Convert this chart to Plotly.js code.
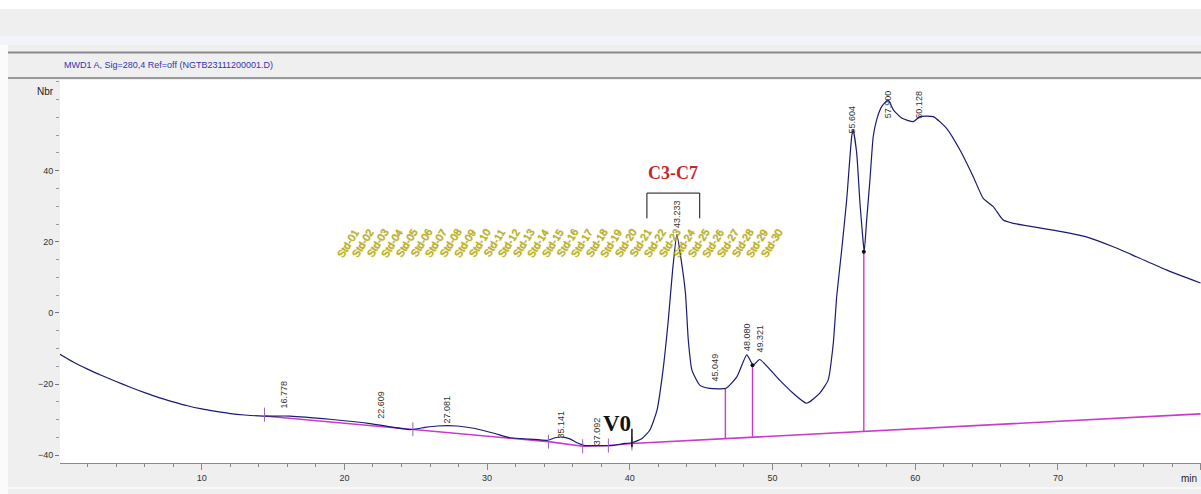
<!DOCTYPE html>
<html><head><meta charset="utf-8">
<script src="https://cdn.plot.ly/plotly-3.0.1.min.js"></script>
<style>html,body{margin:0;padding:0;background:#efefef;overflow:hidden}#chart{width:1201px;height:494px}</style>
</head><body><div id="chart"></div><script>
// ---- data ----
const traceX = [0.07,1.0,2.0,3.0,4.0,5.0,6.0,7.0,8.0,9.0,10.0,11.0,12.0,13.0,14.32,16.2,19.0,21.8,24.6,25.65,26.5,27.9,29.15,30.55,31.6,33.0,34.27,34.76,35.25,35.8,36.3,36.86,37.9,38.75,39.66,40.15,40.86,41.4,41.9,42.3,42.7,43.0,43.3,43.6,43.9,44.1,44.35,44.9,45.6,46.74,47.5,48.2,48.65,49.1,50.5,51.45,52.4,53.3,53.9,54.26,54.5,54.85,55.2,55.55,55.65,55.9,56.13,56.36,56.43,56.6,56.83,57.06,57.3,57.65,58.1,58.47,59.05,59.87,60.34,61.27,62.2,63.14,64.07,64.77,65.47,66.17,66.87,69.68,72.0,73.88,75.5,77.6,80.0];
const traceY = [-11.6,-13.8,-15.8,-17.6,-19.3,-20.9,-22.4,-23.8,-25.0,-26.1,-27.0,-27.7,-28.3,-28.7,-29.0,-29.0,-29.9,-31.1,-32.8,-32.2,-31.8,-31.8,-32.5,-33.9,-35.1,-35.5,-35.8,-35.1,-34.9,-35.4,-36.5,-37.3,-37.3,-37.3,-36.7,-36.5,-35.3,-33.0,-27.5,-17.0,-2.0,12.0,22.0,14.9,5.6,-7.6,-16.0,-20.3,-21.2,-21.2,-18.0,-11.8,-14.7,-13.1,-18.9,-22.6,-25.4,-22.6,-18.9,-8.6,4.6,17.7,31.8,49.6,51.5,45.0,30.9,19.7,17.2,26.1,37.4,49.6,54.3,58.0,59.9,57.1,54.8,53.8,55.2,55.2,51.9,45.8,38.3,32.2,29.9,26.1,25.2,23.3,21.4,18.6,15.8,12.1,8.4];
const baseX = [14.4,24.8,34.3,36.7,38.5,40.15,80.0];
const baseY = [-29.0,-32.7,-36.2,-37.5,-37.3,-36.7,-28.4];
const intTickX = [14.4,24.8,34.3,36.7,38.5,40.15];
const intTickY = [-28.6,-32.7,-36.2,-37.5,-37.3,-36.7];
const dropX = [46.7,48.6,56.4];
const dropTop = [-21.2,-14.7,17.2];
const dropBottom = [-35.3,-34.9,-33.3];
const dotX = [48.6,56.4];
const dotY = [-14.7,17.2];
const peakLabels = ['16.778','22.609','27.081','35.141','37.092','43.233','45.049','48.080','49.321','55.604','57.900','60.128'];
const peakLabelX = [15.8,22.6,27.2,35.2,37.7,43.3,46.0,48.2,49.1,55.6,58.1,60.3];
const peakLabelY = [-27.3,-30.2,-31.6,-35.8,-37.8,23.3,-19.7,-11.3,-11.8,50.0,54.2,54.2];
const stdLabels = ['Std-01','Std-02','Std-03','Std-04','Std-05','Std-06','Std-07','Std-08','Std-09','Std-10','Std-11','Std-12','Std-13','Std-14','Std-15','Std-16','Std-17','Std-18','Std-19','Std-20','Std-21','Std-22','Std-23','Std-24','Std-25','Std-26','Std-27','Std-28','Std-29','Std-30'];
const stdX = [20.25,21.27,22.30,23.32,24.34,25.37,26.39,27.41,28.44,29.46,30.48,31.51,32.53,33.55,34.58,35.60,36.62,37.65,38.67,39.69,40.72,41.74,42.76,43.79,44.81,45.83,46.86,47.88,48.90,49.93];
const stdY = 19.7;
const bracketX = [41.2,41.2,44.9,44.9];
const bracketY = [26.6,33.7,33.7,26.6];
const v0X = [40.15,40.15];
const v0Y = [-32.6,-37.8];
const yTickVals = [-40,-20,0,20,40];
const headerText = 'MWD1 A, Sig=280,4 Ref=off (NGTB23111200001.D)';
const yUnit = 'Nbr';
const xUnit = 'min';
const groupLabel = 'C3-C7';

// ---- layout helpers (pixel -> paper) ----
const PX = p => (p-60)/1141;
const PY = p => (463-p)/383;

const NAVY = '#1a1a70', MAG = '#c83cc8';
const dropXs = [], dropYs = [];
dropX.forEach((x,i)=>{dropXs.push(x,x,null);dropYs.push(dropBottom[i],dropTop[i],null);});

const traces = [
  {x: baseX, y: baseY, mode:'lines', line:{color:MAG, width:1.6}, hoverinfo:'skip'},
  {x: dropXs, y: dropYs, mode:'lines', line:{color:MAG, width:1.4}, hoverinfo:'skip'},
  {x: traceX, y: traceY, mode:'lines', line:{color:NAVY, width:1.2, shape:'spline', smoothing:0.5}, hoverinfo:'skip'},
  {x: dotX, y: dotY, mode:'markers', marker:{color:'#111', size:4}, hoverinfo:'skip'},
  {x: intTickX, y: intTickY, mode:'markers', marker:{symbol:'line-ns-open', size:10, line:{color:'#111', width:1}}, hoverinfo:'skip'},
  {x: bracketX, y: bracketY, mode:'lines', line:{color:'#111', width:1}, hoverinfo:'skip'},
  {x: v0X, y: v0Y, mode:'lines', line:{color:'#111', width:1.5}, hoverinfo:'skip'}
];

const ann = [];
peakLabels.forEach((t,i)=>ann.push({x:peakLabelX[i], y:peakLabelY[i], xref:'x', yref:'y', text:t, textangle:-90, showarrow:false, xanchor:'center', yanchor:'bottom', font:{family:'Liberation Sans', size:9, color:'#333'}}));
stdLabels.forEach((t,i)=>ann.push({x:stdX[i], y:stdY, xref:'x', yref:'y', text:t, textangle:-58, showarrow:false, xanchor:'center', yanchor:'middle', font:{family:'Liberation Sans', size:10.5, color:'#d2be00', shadow:'0 0 1px #5e5600'}}));
ann.push({x:43.0, y:39.3, xref:'x', yref:'y', text:'<b>'+groupLabel+'</b>', showarrow:false, font:{family:'Liberation Serif', size:18, color:'#c0282d'}});
ann.push({x:39.1, y:-31.2, xref:'x', yref:'y', text:'<b>V0</b>', showarrow:false, font:{family:'Liberation Serif', size:23, color:'#111'}});
ann.push({x:PX(62), y:PY(65), xref:'paper', yref:'paper', text:headerText, showarrow:false, xanchor:'left', yanchor:'middle', font:{family:'Liberation Sans', size:9, color:'#3434b4'}});
ann.push({x:PX(45), y:PY(91), xref:'paper', yref:'paper', text:yUnit, showarrow:false, xanchor:'center', yanchor:'middle', font:{family:'Liberation Sans', size:10, color:'#222'}});
ann.push({x:PX(1199), y:PY(478), xref:'paper', yref:'paper', text:xUnit, showarrow:false, xanchor:'right', yanchor:'middle', font:{family:'Liberation Sans', size:10, color:'#222'}});

const shapes = [
  {type:'rect', xref:'paper', yref:'paper', x0:PX(0), x1:PX(1201), y0:PY(0), y1:PY(9), fillcolor:'#ffffff', line:{width:0}},
  {type:'rect', xref:'paper', yref:'paper', x0:PX(0), x1:PX(1201), y0:PY(36), y1:PY(45), fillcolor:'#f3f4fa', line:{width:0}},
  {type:'rect', xref:'paper', yref:'paper', x0:PX(0), x1:PX(8), y0:PY(45), y1:PY(494), fillcolor:'#fbfbfb', line:{width:0}},
  {type:'line', xref:'paper', yref:'paper', x0:PX(8), x1:PX(1201), y0:PY(52.5), y1:PY(52.5), line:{color:'#8a8a8a', width:2}},
  {type:'line', xref:'paper', yref:'paper', x0:PX(8), x1:PX(1201), y0:PY(78), y1:PY(78), line:{color:'#9a9a9a', width:2}},
  {type:'line', xref:'paper', yref:'paper', x0:PX(8), x1:PX(1201), y0:PY(488), y1:PY(488), line:{color:'#fafafa', width:1.5}}
];

const layout = {
  width:1201, height:494,
  margin:{l:60, r:0, t:80, b:31, pad:0},
  paper_bgcolor:'#efefef', plot_bgcolor:'#ffffff',
  showlegend:false,
  xaxis:{range:[0.07,80.03], tick0:0, dtick:10, ticks:'outside', ticklen:6, tickcolor:'#888', tickwidth:1,
         showline:true, linecolor:'#8a8a8a', linewidth:1, showgrid:false, zeroline:false,
         tickfont:{family:'Liberation Sans', size:9, color:'#333'},
         minor:{dtick:2, tick0:0, ticks:'outside', ticklen:3, tickcolor:'#888', showgrid:false}},
  yaxis:{range:[-42.2,65.5], tickmode:'array', tickvals:yTickVals, ticks:'outside', ticklen:4, tickcolor:'#777', tickwidth:1,
         showline:false, showgrid:false, zeroline:false,
         tickfont:{family:'Liberation Sans', size:9, color:'#333'},
         minor:{dtick:5, tick0:0, ticks:'outside', ticklen:3, tickcolor:'#999', showgrid:false}},
  annotations: ann,
  shapes: shapes
};
Plotly.newPlot('chart', traces, layout, {staticPlot:true, displayModeBar:false});
</script></body></html>
